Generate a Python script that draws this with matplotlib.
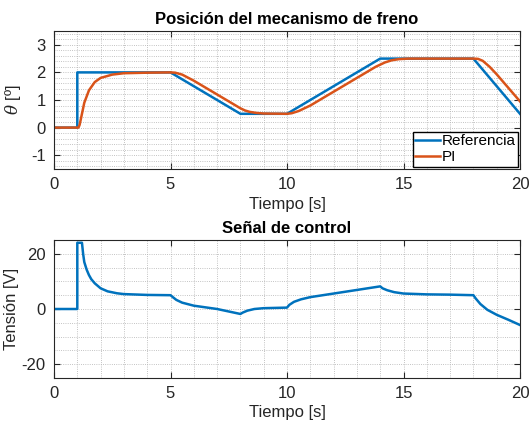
import numpy as np
import matplotlib.pyplot as plt
from matplotlib.ticker import MultipleLocator

plt.rcParams['font.family'] = ['Liberation Sans', 'DejaVu Sans']
plt.rcParams['mathtext.fontset'] = 'dejavuserif'
plt.rcParams['axes.unicode_minus'] = False

# Referencia (breakpoints)
t_ref = [0, 1, 1, 5, 8, 10, 14, 18, 20]
y_ref = [0, 0, 2, 2, 0.5, 0.5, 2.5, 2.5, 0.5]

# Respuesta PI
t_pi = [0, 1.05, 1.1, 1.2, 1.3, 1.5, 1.75, 2.0, 2.5, 3.0, 4.0, 5.0, 5.2, 5.5, 6.0, 7.0,
        7.8, 8.0, 8.2, 8.4, 8.7, 9.0, 10.0, 10.2, 10.5, 11.0, 12.0, 13.0, 13.8, 14.0,
        14.2, 14.5, 14.8, 15.2, 18.0, 18.2, 18.4, 18.7, 19.0, 20.0]
y_pi = [0, 0, 0.1, 0.5, 0.9, 1.35, 1.65, 1.8, 1.92, 1.97, 1.99, 2.0, 1.99, 1.92, 1.7, 1.2,
        0.8, 0.7, 0.62, 0.57, 0.53, 0.51, 0.5, 0.52, 0.6, 0.8, 1.3, 1.8, 2.2, 2.28,
        2.36, 2.44, 2.48, 2.5, 2.5, 2.49, 2.42, 2.2, 1.93, 0.95]

# Señal de control
t_u = [0, 1.0, 1.0, 1.2, 1.25, 1.3, 1.4, 1.5, 1.6, 1.75, 2.0, 2.3, 2.7, 3.0, 4.0, 5.0,
       5.1, 5.25, 5.5, 6.0, 7.0, 8.0, 8.1, 8.3, 8.6, 9.0, 10.0, 10.1, 10.3, 10.6, 11.0,
       12.0, 13.0, 14.0, 14.1, 14.3, 14.6, 15.0, 16.0, 17.0, 18.0, 18.1, 18.3, 18.6,
       19.0, 19.5, 20.0]
u = [0, 0, 24, 24, 20, 17, 14.3, 12.3, 10.8, 9.3, 7.5, 6.4, 5.7, 5.4, 5.1, 5.0,
     4.3, 3.3, 2.3, 1.2, 0.0, -1.8, -1.3, -0.6, 0.0, 0.3, 0.5, 1.5, 2.6, 3.5, 4.3,
     5.6, 6.9, 8.2, 7.5, 6.8, 6.1, 5.6, 5.3, 5.2, 5.0, 3.8, 1.8, -0.3,
     -2.1, -3.9, -5.8]

blue = '#0072BD'
orange = '#D95319'
axcol = '#262626'

fig = plt.figure(figsize=(5.31, 4.28), dpi=100)
ax1 = fig.add_axes([54 / 531, (428 - 169) / 428, 466 / 531, 138 / 428])
ax2 = fig.add_axes([54 / 531, (428 - 378) / 428, 466 / 531, 138 / 428])

ax1.plot(t_ref, y_ref, color=blue, lw=1.8, label='Referencia')
ax1.plot(t_pi, y_pi, color=orange, lw=1.8, label='PI')
ax1.set_xlim(0, 20)
ax1.set_ylim(-1.5, 3.5)
ax1.set_yticks([-1, 0, 1, 2, 3])
ax1.xaxis.set_major_locator(MultipleLocator(5))
ax1.xaxis.set_minor_locator(MultipleLocator(1))
ax1.yaxis.set_minor_locator(MultipleLocator(0.2))
ax1.set_title('Posición del mecanismo de freno', fontsize=12, fontweight='bold', pad=5)
ax1.set_xlabel('Tiempo [s]', fontsize=12, color=axcol, labelpad=3)
ax1.set_ylabel(r'$\theta$ [º]', fontsize=12, color=axcol, labelpad=6)
ax1.legend(loc='lower right', fontsize=11, fancybox=False, edgecolor='black',
           framealpha=1, borderpad=0.15, handlelength=1.6, handletextpad=0.1,
           labelspacing=0.15, borderaxespad=0.15)

ax2.plot(t_u, u, color=blue, lw=1.8)
ax2.set_xlim(0, 20)
ax2.set_ylim(-25, 25)
ax2.set_yticks([-20, 0, 20])
ax2.xaxis.set_major_locator(MultipleLocator(5))
ax2.xaxis.set_minor_locator(MultipleLocator(1))
ax2.yaxis.set_minor_locator(MultipleLocator(5))
ax2.set_title('Señal de control', fontsize=12, fontweight='bold', pad=5)
ax2.set_xlabel('Tiempo [s]', fontsize=12, color=axcol, labelpad=3)
ax2.set_ylabel('Tensión [V]', fontsize=12, color=axcol, labelpad=2)

for ax in (ax1, ax2):
    ax.grid(True, which='both', color='#b0b0b0', lw=0.6, ls=':')
    ax.set_axisbelow(True)
    ax.tick_params(which='both', direction='in', top=True, right=True,
                   labelsize=12, colors=axcol, length=4, pad=6)
    ax.tick_params(which='minor', length=0)
    for s in ax.spines.values():
        s.set_color(axcol)
        s.set_linewidth(0.8)

fig.savefig('out.png', dpi=100)
